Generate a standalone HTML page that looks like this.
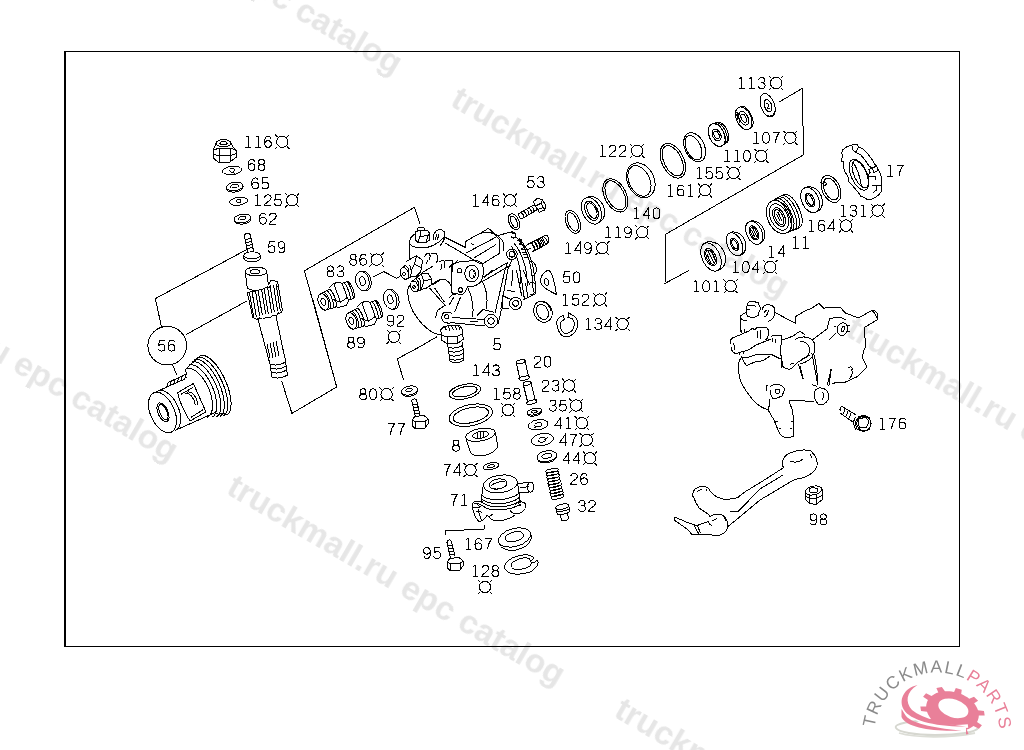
<!DOCTYPE html>
<html><head><meta charset="utf-8"><style>
html,body{margin:0;padding:0;background:#fff;width:1024px;height:750px;overflow:hidden}
svg{display:block;position:absolute;left:0;top:0}
.wm{filter:grayscale(1)}
.wm text{font-family:"Liberation Sans",sans-serif;font-weight:bold;font-size:33.4px;fill:#e6e6e6}
.lb text{font-family:"Liberation Mono",monospace;font-size:18.0px;fill:#000}
.lb .z{font-family:"Liberation Sans",sans-serif;font-size:17.3px}
.lb{filter:grayscale(1)}
.d{fill:none;stroke:#000;stroke-width:1;shape-rendering:crispEdges}
.d *{stroke-width:1}
</style></head><body>
<svg width="1024" height="750" viewBox="0 0 1024 750">
<defs><g class="gl"><path id="g0" d="M0-11.5C-2.3-11.5-3.4-9.2-3.4-6C-3.4-2.8-2.3-0.5 0-0.5C2.3-0.5 3.4-2.8 3.4-6C3.4-9.2 2.3-11.5 0-11.5Z"/><path id="g1" d="M-2.2-10.6L0.2-11.7M0.2-11.7V-0.5M-2.6-0.5H2.8"/><path id="g2" d="M-3.2-8.8C-3.1-10.6-1.8-11.5 0-11.5C2-11.5 3.3-10.3 3.3-8.5C3.3-6.6 1.8-5.6-0.3-4.3C-2.4-3-3.4-1.8-3.4-0.5H3.4"/><path id="g3" d="M-3.1-9.2C-2.7-10.8-1.5-11.5 0-11.5C2-11.5 3.1-10.3 3.1-8.8C3.1-7.2 1.9-6.3 0-6.3H-1M0-6.3C2.2-6.3 3.4-5 3.4-3.3C3.4-1.5 2-0.5 0-0.5C-2-0.5-3.2-1.5-3.4-3.2"/><path id="g4" d="M2.1-0.5V-11.6L-3.4-3.6H3.5"/><path id="g5" d="M3-11.5H-2.3L-2.9-6.1C-2-7 -1-7.4 0.2-7.4C2.2-7.4 3.4-6 3.4-4C3.4-1.8 2-0.5 0-0.5C-1.8-0.5-3-1.4-3.4-2.9"/><path id="g6" d="M3.1-9.4C2.7-10.8 1.5-11.5 0-11.5C-2.4-11.5-3.4-9-3.4-5.5C-3.4-2 -2.1-0.5 0-0.5C2-0.5 3.4-1.8 3.4-3.9C3.4-5.9 2-7.1 0.1-7.1C-1.8-7.1-3.1-6-3.4-4.2"/><path id="g7" d="M-3.4-11.5H3.4C1.3-8.8-0.3-5-0.9-0.5"/><path id="g8" d="M0-6.3C-1.8-6.3-2.9-7.4-2.9-8.9C-2.9-10.5-1.7-11.5 0-11.5C1.7-11.5 2.9-10.5 2.9-8.9C2.9-7.4 1.8-6.3 0-6.3C-2.1-6.3-3.4-5-3.4-3.4C-3.4-1.6-2-0.5 0-0.5C2-0.5 3.4-1.6 3.4-3.4C3.4-5 2.1-6.3 0-6.3Z"/><path id="g9" d="M-3.1-2.6C-2.7-1.2-1.5-0.5 0-0.5C2.4-0.5 3.4-3 3.4-6.5C3.4-10 2.1-11.5 0-11.5C-2-11.5-3.4-10.2-3.4-8.1C-3.4-6.1-2-4.9-0.1-4.9C1.8-4.9 3.1-6 3.4-7.8"/></g><path id="one" d="M-2.4-10.9H0.2M0.2-11.9V0M-2.4-0.5H2.4" fill="none" stroke="#000" stroke-width="1.35"/><g id="q" class="d"><circle r="5.7"/><path d="M-7.1-6.9L-4.9-4.8M7.1-6.9L4.9-4.8M-7.1 7.1L-4.9 4.9M7.1 7.1L4.9 4.9"/></g></defs>
<g class="wm">
<text x="62.0" y="-118.0" transform="rotate(30.25 62.0 -118.0)">truckmall.ru epc catalog</text>
<text x="448.8" y="105.3" transform="rotate(30.25 448.8 105.3)">truckmall.ru epc catalog</text>
<text x="-162.2" y="269.0" transform="rotate(30.25 -162.2 269.0)">truckmall.ru epc catalog</text>
<text x="224.8" y="493.3" transform="rotate(30.25 224.8 493.3)">truckmall.ru epc catalog</text>
<text x="844.1" y="335.0" transform="rotate(30.25 844.1 335.0)">truckmall.ru epc catalog</text>
<text x="612.5" y="716.0" transform="rotate(30.25 612.5 716.0)">truckmall.ru epc catalog</text>
</g>
<path d="M64.5 51.5H959.5V646.5H64.5Z" fill="none" stroke="#000" stroke-width="1" shape-rendering="crispEdges"/>
<rect x="64" y="51" width="2" height="596" fill="#000"/>
<g class="lb" fill="none" stroke="#000" stroke-width="1" shape-rendering="crispEdges">
<use href="#g1" x="247.9" y="147.8"/>
<use href="#g1" x="257.9" y="147.8"/>
<use href="#g6" x="267.9" y="147.8"/>
<use href="#g6" x="251.6" y="170.9"/>
<use href="#g8" x="261.6" y="170.9"/>
<use href="#g6" x="255.1" y="189.4"/>
<use href="#g5" x="265.1" y="189.4"/>
<use href="#g1" x="257.8" y="206.4"/>
<use href="#g2" x="267.8" y="206.4"/>
<use href="#g5" x="277.8" y="206.4"/>
<use href="#g6" x="262.9" y="224.6"/>
<use href="#g2" x="272.9" y="224.6"/>
<use href="#g5" x="271.6" y="253.2"/>
<use href="#g9" x="281.6" y="253.2"/>
<use href="#g8" x="330.4" y="277.4"/>
<use href="#g3" x="340.4" y="277.4"/>
<use href="#g8" x="353.2" y="265.7"/>
<use href="#g6" x="363.2" y="265.7"/>
<use href="#g9" x="390.6" y="326.6"/>
<use href="#g2" x="400.6" y="326.6"/>
<use href="#g8" x="351.0" y="348.6"/>
<use href="#g9" x="361.0" y="348.6"/>
<use href="#g8" x="363.1" y="400.3"/>
<use href="#g0" x="373.1" y="400.3"/>
<use href="#g7" x="391.2" y="435.2"/>
<use href="#g7" x="401.2" y="435.2"/>
<use href="#g1" x="475.7" y="206.5"/>
<use href="#g4" x="485.7" y="206.5"/>
<use href="#g6" x="495.7" y="206.5"/>
<use href="#g5" x="530.8" y="188.1"/>
<use href="#g3" x="540.8" y="188.1"/>
<use href="#g5" x="497.0" y="350.4"/>
<use href="#g5" x="566.6" y="283.4"/>
<use href="#g0" x="576.6" y="283.4"/>
<use href="#g1" x="565.5" y="305.7"/>
<use href="#g5" x="575.5" y="305.7"/>
<use href="#g2" x="585.5" y="305.7"/>
<use href="#g1" x="588.2" y="330.0"/>
<use href="#g3" x="598.2" y="330.0"/>
<use href="#g4" x="608.2" y="330.0"/>
<use href="#g1" x="476.0" y="376.4"/>
<use href="#g4" x="486.0" y="376.4"/>
<use href="#g3" x="496.0" y="376.4"/>
<use href="#g2" x="537.6" y="367.6"/>
<use href="#g0" x="547.6" y="367.6"/>
<use href="#g1" x="496.8" y="399.6"/>
<use href="#g5" x="506.8" y="399.6"/>
<use href="#g8" x="516.8" y="399.6"/>
<use href="#g2" x="545.6" y="391.6"/>
<use href="#g3" x="555.6" y="391.6"/>
<use href="#g3" x="552.8" y="411.6"/>
<use href="#g5" x="562.8" y="411.6"/>
<use href="#g4" x="558.4" y="429.2"/>
<use href="#g1" x="568.4" y="429.2"/>
<use href="#g4" x="563.2" y="446.0"/>
<use href="#g7" x="573.2" y="446.0"/>
<use href="#g4" x="566.4" y="464.4"/>
<use href="#g4" x="576.4" y="464.4"/>
<use href="#g2" x="574.0" y="485.0"/>
<use href="#g6" x="584.0" y="485.0"/>
<use href="#g3" x="582.0" y="512.0"/>
<use href="#g2" x="592.0" y="512.0"/>
<use href="#g8" x="456.0" y="451.6"/>
<use href="#g7" x="447.0" y="476.0"/>
<use href="#g4" x="457.0" y="476.0"/>
<use href="#g7" x="454.0" y="506.0"/>
<use href="#g1" x="464.0" y="506.0"/>
<use href="#g9" x="427.0" y="559.0"/>
<use href="#g5" x="437.0" y="559.0"/>
<use href="#g1" x="468.4" y="550.0"/>
<use href="#g6" x="478.4" y="550.0"/>
<use href="#g7" x="488.4" y="550.0"/>
<use href="#g1" x="475.4" y="577.0"/>
<use href="#g2" x="485.4" y="577.0"/>
<use href="#g8" x="495.4" y="577.0"/>
<use href="#g1" x="567.9" y="254.2"/>
<use href="#g4" x="577.9" y="254.2"/>
<use href="#g9" x="587.9" y="254.2"/>
<use href="#g1" x="607.9" y="238.4"/>
<use href="#g1" x="617.9" y="238.4"/>
<use href="#g9" x="627.9" y="238.4"/>
<use href="#g1" x="636.5" y="219.3"/>
<use href="#g4" x="646.5" y="219.3"/>
<use href="#g0" x="656.5" y="219.3"/>
<use href="#g1" x="602.7" y="156.9"/>
<use href="#g2" x="612.7" y="156.9"/>
<use href="#g2" x="622.7" y="156.9"/>
<use href="#g1" x="670.6" y="196.5"/>
<use href="#g6" x="680.6" y="196.5"/>
<use href="#g1" x="690.6" y="196.5"/>
<use href="#g1" x="699.2" y="179.2"/>
<use href="#g5" x="709.2" y="179.2"/>
<use href="#g5" x="719.2" y="179.2"/>
<use href="#g1" x="726.9" y="161.9"/>
<use href="#g1" x="736.9" y="161.9"/>
<use href="#g0" x="746.9" y="161.9"/>
<use href="#g1" x="756.0" y="143.8"/>
<use href="#g0" x="766.0" y="143.8"/>
<use href="#g7" x="776.0" y="143.8"/>
<use href="#g1" x="741.7" y="89.1"/>
<use href="#g1" x="751.7" y="89.1"/>
<use href="#g3" x="761.7" y="89.1"/>
<use href="#g1" x="889.9" y="176.5"/>
<use href="#g7" x="899.9" y="176.5"/>
<use href="#g1" x="843.2" y="216.7"/>
<use href="#g3" x="853.2" y="216.7"/>
<use href="#g1" x="863.2" y="216.7"/>
<use href="#g1" x="811.6" y="231.7"/>
<use href="#g6" x="821.6" y="231.7"/>
<use href="#g4" x="831.6" y="231.7"/>
<use href="#g1" x="795.7" y="248.5"/>
<use href="#g1" x="805.7" y="248.5"/>
<use href="#g1" x="771.4" y="257.5"/>
<use href="#g4" x="781.4" y="257.5"/>
<use href="#g1" x="735.8" y="273.1"/>
<use href="#g0" x="745.8" y="273.1"/>
<use href="#g4" x="755.8" y="273.1"/>
<use href="#g1" x="696.2" y="292.3"/>
<use href="#g0" x="706.2" y="292.3"/>
<use href="#g1" x="716.2" y="292.3"/>
<use href="#g1" x="882.4" y="429.5"/>
<use href="#g7" x="892.4" y="429.5"/>
<use href="#g6" x="902.4" y="429.5"/>
<use href="#g9" x="813.4" y="525.4"/>
<use href="#g8" x="823.4" y="525.4"/>
<use href="#g5" x="161.6" y="351.6"/>
<use href="#g6" x="171.6" y="351.6"/>
</g>
<g>
<use href="#q" x="282.3" y="141.7"/>
<use href="#q" x="292.2" y="200.3"/>
<use href="#q" x="376.7" y="259.6"/>
<use href="#q" x="386.6" y="394.2"/>
<use href="#q" x="510.1" y="200.4"/>
<use href="#q" x="599.9" y="299.6"/>
<use href="#q" x="622.6" y="323.9"/>
<use href="#q" x="569.1" y="385.5"/>
<use href="#q" x="576.3" y="405.5"/>
<use href="#q" x="581.9" y="423.1"/>
<use href="#q" x="586.7" y="439.9"/>
<use href="#q" x="589.9" y="458.3"/>
<use href="#q" x="470.5" y="469.9"/>
<use href="#q" x="602.3" y="248.1"/>
<use href="#q" x="642.3" y="232.3"/>
<use href="#q" x="637.1" y="150.8"/>
<use href="#q" x="705.0" y="190.4"/>
<use href="#q" x="733.6" y="173.1"/>
<use href="#q" x="761.3" y="155.8"/>
<use href="#q" x="790.4" y="137.7"/>
<use href="#q" x="776.1" y="83.0"/>
<use href="#q" x="877.6" y="210.6"/>
<use href="#q" x="846.0" y="225.6"/>
<use href="#q" x="770.2" y="267.0"/>
<use href="#q" x="730.6" y="286.2"/>
<use href="#q" x="393.9" y="336.8"/>
<use href="#q" x="508.0" y="410.0"/>
<use href="#q" x="485.0" y="587.0"/>
</g>
<g class="d">
<g transform="translate(225 152)"><ellipse cx="-1.5" cy="-8.8" rx="7.5" ry="3.6"/><ellipse cx="-1.5" cy="-8.8" rx="3.6" ry="1.7"/><path d="M-9-8.5 C-10-6 -11-4 -11.5-2 M6-8.5 C7-6 9-4 11-2"/><path d="M-12-1.5 L-6-4 L5-4 L11.5-1.5 L11.5 5 L5 10 L-6 10.5 L-12 6 Z M-6-4 L-6 4 L-6 10.5 M5-4 L5 10 M-12 2 L-6 4 L5 3.5 L11.5 1.5"/></g>
<g transform="translate(232 170.5) rotate(-8)"><ellipse rx="9.5" ry="4.3"/><path d="M-2-1.5 C2-3 4-1 2 1 C0 2.5-3 1-2-1 M1 1 L2 4"/></g>
<g transform="translate(234.6 186.5) rotate(-8)"><ellipse rx="8.5" ry="4.2"/><path d="M-8.5 0.5 C-8.5 7.2 8.5 7.2 8.5 0.5"/><ellipse cx="0" cy="-0.5" rx="3.6" ry="1.7"/></g>
<g transform="translate(238.5 201.3) rotate(-8)"><ellipse rx="9" ry="4"/><path d="M-2-1 C1-3 4-1 2 1 C0 2-3 1-2-1"/></g>
<g transform="translate(242.5 218.5) rotate(-8)"><ellipse rx="8.5" ry="4.2"/><path d="M-8.5 0.5 C-8.5 7.2 8.5 7.2 8.5 0.5"/><ellipse cx="0" cy="-0.5" rx="3.6" ry="1.7"/></g>
<g><path d="M244.6 237 C244 233 249.5 231.5 250.5 235.5 M244.6 237 L247.8 253 M250.5 235.5 L253.6 251.5"/><path d="M244.8 240 L250.6 238.4 M245.4 243 L251.2 241.4 M246 246 L251.8 244.4 M246.6 249 L252.4 247.4"/><ellipse cx="252" cy="255.3" rx="8.2" ry="3.5"/><path d="M243.8 255.6 L244 258.5 C245 262.5 259 262.5 260.2 258.5 L260.2 255.3"/></g>
<path d="M247.3 249.3 L155.3 298.6 L161.5 326.8"/>
<path d="M186.0 334.6 L247.3 300.7"/>
<path d="M172.6 364.8 L176.6 374.6"/>
<path d="M313.0 300.0 L336.7 387.0 L291.9 413.4 L281.8 381.2"/>
<circle cx="167.2" cy="345.7" r="19.3"/>
<g><ellipse cx="256" cy="271.5" rx="10.7" ry="4.5"/><ellipse cx="255" cy="271.8" rx="5" ry="2"/><path d="M245.3 272 L247.3 288 M266.7 271 L268.3 285"/><path d="M247.3 288 C252 292 262 291 268.3 286"/><path d="M247.2 292.4 L252.8 317.2 C255 319.5 258 319.5 259.5 318 C261 319.5 264 319.5 266 317 C268 318.5 271 318 272.5 315.5 C274.5 316.5 277 315.5 278.5 313 C280.5 313.5 282 312 282.4 310 L277.6 282"/><path d="M268.3 285 L271 280.5 L274 280 L276 281.5 L277.6 282 M276.5 286 L279 287.5"/><path d="M247.2 292.4 C249 293 250.5 292 251.5 291.2 C253.5 292.5 256 291 257.5 290 M266 287.5 C268 288 270 287 271 285.5"/><path d="M249.5 293.0 L253.7 317.3 M252.1 292.1 L256.3 316.6 M255.5 291.0 L259.7 315.8 M258.1 290.1 L262.3 315.1 M261.5 289.0 L265.7 314.3 M264.1 288.1 L268.3 313.6 M267.5 287.1 L271.7 312.8 M270.1 286.2 L274.3 312.1 M273.5 285.1 L277.7 311.3 M276.1 284.2 L280.3 310.6"/><path d="M257.6 318 L269 360.6 M276 316 L284.8 358"/><path d="M267 344 L270 358 M270 343 L273 358 M273 342 L276 357 M276 341 L279 356"/><path d="M269.5 360.5 L272 377 C276 379 283 378 287.5 375 L285 358 M270.5 364 C274 366 281 365 285.5 362 M271 368 C275 370 282 369 286 366 M271.5 372 C275 374 282 373 286.5 370"/></g>
<g transform="translate(162.5 412.5) rotate(-24)"><ellipse rx="12" ry="21.5"/><ellipse cx="0.5" rx="5" ry="10"/><ellipse cx="1" rx="3.6" ry="8.3"/><path d="M4.5-21.5 A12 21.5 0 0 1 4.5 21.5"/><path d="M0-21.5 L34-21.5 M4.5 21.5 L48 21.5"/><path d="M14-21.5 L17-25 M18-21.5 L21-25.5 M22-21.5 L25-25.5 M26-21.5 L29-25.5 M30-21.5 L33-25.5 M17-25 L36-25.5 L36-21.5"/><path d="M22-12 L40-14 L40 17 L22 19 C20 12 20 -5 22 -12 Z M24-9 L38-10.5 M24 16 L38 14"/><path d="M28-8 C33-8 35 0 33 6 M31-8.5 C36-8 38 1 35 7"/><path d="M34-21.5 L38-26 L38-30 M48 21.5 L50 24"/><path d="M39-26.5 A13 26.5 0 0 1 39 26.5" transform="translate(0 -4)"/><path d="M43-28.5 A13 28.5 0 0 1 43 28.5" transform="translate(0 -4)"/><path d="M47-30 A13 30 0 0 1 47 30" transform="translate(0 -4)"/><path d="M50.5-31 A13 31 0 0 1 50.5 31" transform="translate(0 -4)"/><path d="M54-31.8 A13 31.8 0 0 1 54 31.8" transform="translate(0 -4)"/><path d="M57.5-32.3 A13 32.3 0 0 1 57.5 32.3" transform="translate(0 -4)"/><path d="M38-30 L57.5-36.5 M50 24 L57.5 27"/></g>
<path d="M304.4 270.8 L414.4 207.3 L420.0 224.3"/>
<path d="M304.4 270.8 L336.7 387.0"/>
<g transform="translate(334 296) rotate(-20)"><ellipse cx="-12" cy="2" rx="5" ry="8.5"/><ellipse cx="-12" cy="2" rx="2.2" ry="3.6"/><path d="M-12-6.5 L-2-8 M-12 10.5 L-2 11 M-8-7 C-5-4-5 8-8 10.8 M-5-7.3 C-2-4-2 8-5 11 M-2-8 C1-4 1 8-2 11"/><path d="M-2-9 L4-12 L10-11 L12-8 L12 10 L8 13 L-1 12 M4-12 L4 8 M-2 3 L4 8 L12 6"/><path d="M12-9 L18-9 M12 9 L18 9 M14-9.5 C16-5 16 5 14 9.5 M17-9.5 C19-5 19 5 17 9.5 M18-9 C21-5 21 5 18 9"/></g>
<g transform="translate(362 315) rotate(-20)"><ellipse cx="-12" cy="2" rx="5" ry="8.5"/><ellipse cx="-12" cy="2" rx="2.2" ry="3.6"/><path d="M-12-6.5 L-2-8 M-12 10.5 L-2 11 M-8-7 C-5-4-5 8-8 10.8 M-5-7.3 C-2-4-2 8-5 11 M-2-8 C1-4 1 8-2 11"/><path d="M-2-9 L4-12 L10-11 L12-8 L12 10 L8 13 L-1 12 M4-12 L4 8 M-2 3 L4 8 L12 6"/><path d="M12-9 L18-9 M12 9 L18 9 M14-9.5 C16-5 16 5 14 9.5 M17-9.5 C19-5 19 5 17 9.5 M18-9 C21-5 21 5 18 9"/></g>
<g transform="translate(362.4 281.1) rotate(-15)"><ellipse cx="0" cy="0" rx="6.6" ry="10"/><path d="M0 -10 A6.6 10 0 0 1 0 10" transform="translate(2.0 0.5)"/><path d="M0 -10L2.0 -9.5 M0 10L2.0 10.5"/><ellipse cx="0" cy="0" rx="2.8" ry="4.8"/></g>
<g transform="translate(390.2 299.4) rotate(-15)"><ellipse cx="0" cy="0" rx="6.5" ry="10"/><path d="M0 -10 A6.5 10 0 0 1 0 10" transform="translate(2.0 0.5)"/><path d="M0 -10L2.0 -9.5 M0 10L2.0 10.5"/><ellipse cx="0" cy="0" rx="2.8" ry="4.8"/></g>
<path d="M372.6 277.4 L383.6 271.5 L396.8 278.4 L401.3 275.2"/>
<path d="M397.3 358.9 L420.0 346.6"/>
<path d="M397.3 358.9 L403.5 380.0"/>
<path d="M420.0 346.6 L436.9 336.7"/>
<g transform="translate(409.5 390.5) rotate(-10)"><ellipse rx="8.2" ry="4.5"/><path d="M-8.2 0.5 C-8.2 7.5 8.2 7.5 8.2 0.5"/><ellipse cx="-0.5" cy="-0.5" rx="3.5" ry="1.7"/></g>
<g><path d="M412 402 C411 399 415 398 416.5 400 M412 402 L415.5 417 M416.5 400 L420 415"/><path d="M412.5 405 L417 404 M413.2 408 L417.7 407 M413.9 411 L418.4 410 M414.6 414 L419.1 413"/><path d="M412 420 L415 416.5 L424 415.5 L428 419 L428 424 L425 428 L415 429 L412 425 Z M412 420 L416 422 L425 421.5 L428 419 M416 422 L415 429 M425 421.5 L425 428"/></g>
<g transform="translate(522.5 370) rotate(-12)"><ellipse cx="0" cy="-8.5" rx="4.5" ry="1.8"/><path d="M-4.5-8.5 L-4.5 8 M4.5-8.5 L4.5 8"/><path d="M-5.5 8 C-5.5 11 5.5 11 5.5 8 C5.5 6 -5.5 6 -5.5 8"/></g>
<g transform="translate(529.5 393) rotate(-14)"><ellipse cx="0" cy="-10" rx="4" ry="1.8"/><path d="M-4-10 L-4 9 M4-10 L4 9"/><path d="M-5.5 9 C-5.5 12 5.5 12 5.5 9 C5.5 7 -5.5 7 -5.5 9"/></g>
<ellipse cx="464.8" cy="391.6" rx="16" ry="7.2" transform="rotate(-12 464.8 391.6)"/>
<ellipse cx="464.8" cy="391.6" rx="12.5" ry="4.8" transform="rotate(-12 464.8 391.6)"/>
<ellipse cx="470.8" cy="415.2" rx="22" ry="10.5" transform="rotate(-12 470.8 415.2)"/>
<ellipse cx="470.8" cy="415.2" rx="18" ry="7.5" transform="rotate(-12 470.8 415.2)"/>
<g transform="translate(480.5 434.8) rotate(-10)"><ellipse rx="15" ry="6.2"/><ellipse cx="0" cy="0" rx="8" ry="3.4"/><path d="M-3-2.5 L-3 2.6 M0-3.3 L0 3.4 M3-3 L3 3"/><path d="M-15 0 L-13 16 C-8 23 10 23 15 14 L15 0"/></g>
<g transform="translate(534.4 411.6) rotate(-12)"><ellipse rx="7.3" ry="3.2"/><ellipse rx="2.8" ry="1.3"/><path d="M-7.3 0.5 C-7.3 5.6 7.3 5.6 7.3 0.5"/></g>
<g transform="translate(538.2 424.8) rotate(-10)"><ellipse rx="10" ry="5"/><path d="M-3-1 C0-3.5 5-2 3 1 C1 3-4 2-4 0 M-1 1.5 L-5 2"/></g>
<g transform="translate(542.4 439.6) rotate(-10)"><ellipse rx="11.2" ry="6"/><path d="M-4-1 C-1-4 5-2 3 1.5 C1 3.5-5 2.5-4 0 M2 0 L6-1"/></g>
<g transform="translate(546.8 456.2) rotate(-10)"><ellipse rx="10" ry="5.3"/><ellipse cx="0" cy="-0.3" rx="5" ry="2.5"/><path d="M-10 0.5 C-10 8.6 10 8.6 10 0.5"/></g>
<g transform="translate(491 466.2) rotate(-12)"><ellipse rx="8" ry="3.3"/><ellipse rx="3.5" ry="1.4"/></g>
<g><ellipse cx="500.4" cy="483.9" rx="17.2" ry="8.8" transform="rotate(-8 500.4 483.9)"/><ellipse cx="497.9" cy="484" rx="9" ry="5" transform="rotate(-10 497.9 484)"/><path d="M492 488 C495 490 503 489 506.5 485.5 M491 486 C494 483 500 481 505 481.5"/><path d="M483.2 486 L481.7 496.5 L482 503 M517.5 482.5 L519.9 499.4 L520.5 503"/><path d="M481.7 495 C488 502 510 501 519.5 493 M482 499 C489 506 511 505 520 497 M482.5 502.5 C490 509 511 508 520.3 500.5 M483 506 C490 512 510 511 520.5 504"/><path d="M483 502 L477 501 C473.5 501 472 503.5 472.3 506 L473.5 512 L476 518 L479 521.7 L483 520 L487.4 515.2"/><path d="M474 504 C476 503 480 503.5 482 505.5 L478 508 L473.5 507.5 M476.5 512 L480 511 L482 513 M477.5 504.5 L479 506"/><path d="M478 509 L479.5 515 L481.5 520"/><path d="M515 504.5 C519 501 524 501 525.5 504 C526.5 508 524 512 518 513.8 C514 514 511 512.5 509.8 510 M518.5 503.5 L520.5 506"/><path d="M487.4 515.2 C490 519 494 521 496.8 521 C503 521 510 518.5 514.8 515.2 M489 517 L493 514"/><path d="M518.4 484 L527.8 482 M519.5 493 L528.5 492.2 M520 488 L529 486.5"/><ellipse cx="530.6" cy="487.1" rx="2.9" ry="5.1"/></g>
<path d="M484.0 525.0 L484.0 529.0 L445.0 531.0 L446.0 535.0"/>
<g><path d="M447 543 C446.5 539.5 450.5 539 451.5 541.5 M447 543 L450.5 558 M451.5 541.5 L455 556"/><path d="M447.5 546 L452 545 M448.2 549 L452.7 548 M448.9 552 L453.4 551 M449.6 555 L454.1 554"/><path d="M447 562 L450 558.5 L459 557.5 L463 561 L463 566 L460 570 L450 571 L447 567 Z M447 562 L451 564 L460 563.5 L463 561 M451 564 L450 571 M460 563.5 L460 570"/></g>
<g transform="translate(514.5 537.5) rotate(-15)"><ellipse rx="16.5" ry="9"/><ellipse cx="0" cy="-0.8" rx="9.5" ry="4.8"/><path d="M-16.5 0.5 L-16.3 3 C-15 9 -7 12.5 0 12.5 C8 12.5 15.5 9 16.5 3 L16.5 0"/></g>
<g transform="translate(521 564) rotate(-15)"><path d="M14-3 C10-10-10-11-16-3 C-20 4-8 11 6 10 C14 9 18 4 17 0 M14-3 C12 0 8 0 10-3 M17 0 C14 3 9 2 10 0 M10-3 C4-7-8-6-10-1 C-11 4-2 6 6 5 C9 4 11 2 10 0"/></g>
<g transform="translate(554.5 483) rotate(-12)"><path d="M-6.5 -13 C-6.5 -10 6.5 -10 6.5 -13 C6.5 -15 -6.5 -15 -6.5 -13"/><path d="M-6.5 -10 C-6.5 -7 6.5 -7 6.5 -10 C6.5 -12 -6.5 -12 -6.5 -10"/><path d="M-6.5 -7 C-6.5 -4 6.5 -4 6.5 -7 C6.5 -9 -6.5 -9 -6.5 -7"/><path d="M-6.5 -4 C-6.5 -1 6.5 -1 6.5 -4 C6.5 -6 -6.5 -6 -6.5 -4"/><path d="M-6.5 -1 C-6.5 2 6.5 2 6.5 -1 C6.5 -3 -6.5 -3 -6.5 -1"/><path d="M-6.5 2 C-6.5 5 6.5 5 6.5 2 C6.5 0 -6.5 0 -6.5 2"/><path d="M-6.5 5 C-6.5 8 6.5 8 6.5 5 C6.5 3 -6.5 3 -6.5 5"/><path d="M-6.5 8 C-6.5 11 6.5 11 6.5 8 C6.5 6 -6.5 6 -6.5 8"/><path d="M-6.5 11 C-6.5 14 6.5 14 6.5 11 C6.5 9 -6.5 9 -6.5 11"/><path d="M-6.5 14 C-6.5 17 6.5 17 6.5 14 C6.5 12 -6.5 12 -6.5 14"/></g>
<g transform="translate(563.5 512.5) rotate(-12)"><ellipse cx="0" cy="-6" rx="6.5" ry="2.5"/><path d="M-6.5-6 L-6.5 1 M6.5-6 L6.5 1 M-6.5-3 C-6.5-1 6.5-1 6.5-3 M-6.5 0 C-6.5 2 6.5 2 6.5 0 M-4 1 L-3.5 7 C-1 8.5 2 8.5 3.5 7 L4 1"/></g>
<g transform="translate(531 210) rotate(-30)"><path d="M-12-3 L6-3 M-12 3 L6 3 M-12-3 C-14-3-14 3-12 3"/><path d="M-10-3.3 C-8.8-1 -8.8 1 -10 3.3"/><path d="M-7-3.3 C-5.8-1 -5.8 1 -7 3.3"/><path d="M-4-3.3 C-2.8-1 -2.8 1 -4 3.3"/><path d="M-1-3.3 C0.19999999999999996-1 0.19999999999999996 1 -1 3.3"/><path d="M2-3.3 C3.2-1 3.2 1 2 3.3"/><path d="M5-3.3 C6.2-1 6.2 1 5 3.3"/><path d="M6-6 L12-7 L15-3 L15 3 L12 7 L6 6 Z M6-1 L12-1 L15-3 M12-1 L12 7 M6 3 L12 4"/></g>
<g stroke-width="1.05" transform="translate(514 221.8) rotate(-25)"><ellipse rx="5" ry="8.5"/><ellipse rx="2.8" ry="6.2"/></g>
<g transform="translate(538 244) rotate(-28)"><path d="M-8-4 L8-4 M-8 4 L8 4 M8-4 C10-4 10 4 8 4"/><path d="M-6-4.3 C-4.8-1 -4.8 1 -6 4.3"/><path d="M-3-4.3 C-1.8-1 -1.8 1 -3 4.3"/><path d="M0-4.3 C1.2-1 1.2 1 0 4.3"/><path d="M3-4.3 C4.2-1 4.2 1 3 4.3"/><path d="M6-4.3 C7.2-1 7.2 1 6 4.3"/></g>
<g stroke-width="1.05" transform="translate(572.8 221.9) rotate(-23)"><ellipse rx="6.9" ry="12"/><ellipse rx="4.7" ry="9.8"/></g>
<g stroke-width="1.05" transform="translate(591.5 210.8) rotate(-25)"><ellipse rx="9.2" ry="14"/><path d="M0-14 C7-14 12-8 12 0 C12 8 7 14 0 14" transform="translate(0.8 0)"/><ellipse rx="6" ry="10.3"/><ellipse rx="4.2" ry="8.3" cx="0.5"/></g>
<g stroke-width="1.05" transform="translate(615.4 195.4) rotate(-27)"><ellipse rx="10.8" ry="17.8"/><ellipse rx="8.7" ry="15.7"/></g>
<g stroke-width="1.05" transform="translate(640.8 180.3) rotate(-25)"><ellipse rx="13.3" ry="18.2"/><ellipse cx="-1.5" rx="10.3" ry="16.2"/></g>
<g stroke-width="1.05" transform="translate(672.8 160.8) rotate(-26)"><ellipse rx="11" ry="18.5"/><ellipse rx="8.8" ry="16.3"/></g>
<g stroke-width="1.05" transform="translate(694.7 147.2) rotate(-25)"><ellipse rx="9.8" ry="15.3"/><ellipse cx="-1.3" rx="7.2" ry="13"/></g>
<g stroke-width="1.05" transform="translate(719.4 133.8) rotate(-25)"><ellipse cx="-3" rx="7.5" ry="12"/><ellipse cx="-3" rx="4" ry="6.3"/><ellipse cx="-3" rx="2.4" ry="4"/><path d="M-3-12 L4-11 C10-7 10 7 4 11 L-3 12 M0-11.8 C6-8 6 8 0 11.8 M2.5-11.5 C8-7 8 7 2.5 11.5"/></g>
<g stroke-width="1.05" transform="translate(745.1 117.6) rotate(-25)"><ellipse cx="-1.5" rx="7.3" ry="12"/><path d="M-1.5-12 L2.5-11.5 C8-7 8 7 2.5 11.5 L-1.5 12"/><ellipse cx="-1.5" rx="4.3" ry="7.3"/><ellipse cx="-1.5" rx="2.3" ry="4.3"/><path d="M-7.5-5 L-4.5-8 M-8.5-1 L-4-8.5 M-8.5 3 L-5.5 0 M-6-8 L-3-5 M-8-3 L-6-1"/></g>
<g stroke-width="1.05" transform="translate(767.6 105.3) rotate(-20)"><ellipse rx="6.8" ry="12.2"/><path d="M-6.6 2 C-6 12 3 15.5 6.6 4"/><ellipse cx="0.3" cy="0.5" rx="3.6" ry="6.3"/><path d="M-1-2 C1.5-2.5 2 1 0 1.5 C-1.5 2 -1 4 1 4"/></g>
<path d="M779.1 102.1 L802.5 88.2 L803.4 154.9 L665.7 234.2 L665.0 283.4 L689.0 270.4"/>
<g stroke-width="1.05" transform="translate(712.8 256.1) rotate(-25)"><ellipse cx="-2" rx="9" ry="15"/><path d="M-2-15 L2-15 C9-12 12-6 12 0 C12 8 8 14 2 15 L-2 15"/><ellipse cx="-2.5" rx="5.2" ry="9.2"/><ellipse cx="-2.5" rx="3.8" ry="7.6"/><path d="M-4.5-5 L-4.5 5 M-2-6.5 L-2 6.5 M0.5-5 L0.5 5"/></g>
<g stroke-width="1.05" transform="translate(736 243.7) rotate(-25)"><ellipse cx="-1.5" rx="7.3" ry="12.3"/><path d="M-1.5-12.3 L1.5-12.3 C7-10 9.5-5 9.5 0 C9.5 6 6 11 1.5 12.3 L-1.5 12.3"/><ellipse cx="-1.5" rx="3.6" ry="6.5"/><ellipse cx="-1.5" rx="2.2" ry="4.8"/></g>
<g stroke-width="1.05" transform="translate(755.3 232.3) rotate(-25)"><ellipse cx="-1.2" rx="7.7" ry="12.2"/><path d="M-1.2-12.2 L1.2-12.2 C6.5-10 9-5 9 0 C9 6 6 11 1.2 12.2 L-1.2 12.2"/><ellipse cx="-1.5" rx="4.2" ry="7.5"/><ellipse cx="-1.5" rx="2.8" ry="6"/><path d="M-2.5-4 L-2.5 4 M-0.5-5 L-0.5 5"/></g>
<g stroke-width="1.05" transform="translate(784.5 214.5) rotate(-25)"><ellipse cx="-6" rx="11.5" ry="17.5"/><ellipse cx="-6" rx="8.5" ry="14"/><ellipse cx="-6" rx="5.5" ry="10"/><ellipse cx="-6" rx="3.8" ry="8"/><path d="M-7-4 L-7 4 M-5-5 L-5 5"/><path d="M-3-18.5 C6-13 6 13 -3 18.5"/><path d="M0-18.5 C9-13 9 13 0 18.5"/><path d="M3-18.5 C12-13 12 13 3 18.5"/><path d="M6-18.5 C15-13 15 13 6 18.5"/><path d="M9-18.5 C18-13 18 13 9 18.5"/><path d="M-6-17.5 L9-18.5 M-6 17.5 L9 18.5"/></g>
<g stroke-width="1.05" transform="translate(811.8 199.3) rotate(-25)"><ellipse cx="-1.8" rx="8.5" ry="13.3"/><path d="M-1.8-13.3 L1.5-13.3 C7.5-11 10-5 10 0 C10 6 7 12 1.5 13.3 L-1.8 13.3"/><ellipse cx="-2" rx="4.3" ry="7.3"/><ellipse cx="-2" rx="2.6" ry="5.5"/></g>
<g stroke-width="1.05" transform="translate(831 189) rotate(-25)"><ellipse rx="9" ry="14.2"/><ellipse rx="6.7" ry="11.6"/><path d="M-5.5-8 L-2.5-9.5 L-1.5-6.5 L-4.5-5.5"/></g>
<g><path d="M844.5 148.7 L847 146.5 L851 145.5 L854.1 144.3 L857.5 145 L858.3 147.2 L862.8 148.7 L868 154 L872 159.5 L874.9 164.3 L876.5 166 L872.5 168 L869 169.5 L870 172.5 L868.5 174.5"/><path d="M844.5 148.7 L842.5 150 L841.9 153 L842.5 156 L841.1 160.8 L843.5 162 L843.5 166 L844.5 171.2 L847 175 L848.9 179 L848 180.8 L851 184 L855 188.6 L858 192 L861 196.4 L864 197.5 L868 199.8 L872 199 L875.8 197.2 L879 194.5 L881 192 L881.5 186 L881.8 181.6 L881 176 L879.5 172 L878.4 170.4 L876.5 166"/><path d="M852 146 L853 150 L856 152.5 L858.3 147.2 M856 152.5 L860.5 154.5 L865 160 L869.5 166.5 L872.5 168 M868 174.5 L870 177 L875 176 L876 179.5 M872 185 L876 185.5 L876.5 190 L873 192.5 M876 185.5 L881.5 186 M872.5 168 L873.5 172.5 L878.4 170.4"/><ellipse cx="859" cy="174.7" rx="8" ry="16.5" transform="rotate(-24 859 174.7)"/><ellipse cx="860.2" cy="174.3" rx="6.2" ry="14.6" transform="rotate(-24 860.2 174.3)"/><path d="M853 162 C857 168 860 177 861.5 186"/></g>
<g><path d="M541 283 C539 276 546 270 549 270.5 C552 272 555 285 556.5 294.5 C552 292 543 289 541 283 Z"/><ellipse cx="546.5" cy="282" rx="2.2" ry="3.5" transform="rotate(-15 546.5 282)"/></g>
<g stroke-width="1.05" transform="translate(543 311.7) rotate(-25)"><ellipse rx="9" ry="10.8"/><ellipse cx="-0.6" rx="5.6" ry="8"/><path d="M3.5-9.5 C7-7 8.5-2 7.5 3"/></g>
<path d="M563.2 315.4 C559 317 556.5 320 556.7 323.6 C557 330 561 336.5 565.5 337 C571 337.5 577.5 331 577.9 324.7 C578 320 575.5 316.5 572.6 315.4 C571 314.2 569.5 313.2 568.5 313 L567.9 317.7 L572 318.3 C573.5 320 574.5 322 574.3 324.2 C574 328.5 571.5 332.4 567 333.5 C563.5 334 560.5 330 560.3 326.5 C560 323.5 561 321.5 562.6 320.6 L564.4 319.5 Z"/><g><path d="M417.3 229.5 C417.3 226.8 424.7 226.5 424.7 229.3 L424.7 231 M417.3 229.5 L417.3 231.5"/><path d="M415.4 232 L420 230.3 L428 231 L430 234 L429.9 240 L426 242.4 L418 242.4 L415.4 240 Z M420 230.3 L420 236.5 L418 242.4 M420 236.5 L428 235.5 L430 234 M428 235.5 L426 242.4"/><path d="M415.4 234 C411.5 235.5 409.5 239.5 409.5 243.3 L409.8 259"/><path d="M410 244 C412.5 248.5 426 249 433 245.5 C437 243.5 441 240.5 444 237.5 C446.5 233 443.5 229 438.5 229.5 C434.5 231 432.5 236 433.5 240.5"/><path d="M436 234 C436.5 236 436 238 435 239.5 M438.5 233.5 C438.5 236 438 238.5 437 240"/><path d="M440 246 C441.5 244 443.5 241 444.8 238"/><path d="M444.7 237.1 L465.2 247.4 L466.1 240.9 L479.2 233.9 L488.5 228.3 L494.1 233.4 L498 235.5 L509.8 232.3 L514.6 234"/><path d="M445.6 243.2 L481 264.2"/><path d="M466.1 253 L496 237.1 M474.5 257.6 L496 244.6 M482 264.2 L500 253 M482.9 277.2 L507.5 262.5 M482.5 281.5 L511 265"/><path d="M479.2 233.9 L485 232 L494.1 233.4 M471.5 243.5 L474.5 245.5"/><path d="M494.1 233.4 L499.5 239.5 L500 253 M498 235.5 L503 241.5 L504 251"/><path d="M510 232.3 C513.5 231 516.5 233.5 516 236.5 C515 238.5 512 238.5 511 236.5"/><path d="M516.2 237 C527 248 533 268 533.2 292.5 M518.8 238 C530 250 535.5 270 535.6 293 M514 243 C522 253 527 268 527.5 286 M511.5 246 C518 256 521 270 521 284"/><path d="M517.5 240.5 L521 239.5 L522.2 243 L518.7 244 M519.5 245 L523 244 L524.2 247.7 L520.7 248.5 M521.5 249.5 L525 248.7 L526 252.2 L522.5 253 M523 254.5 L526.7 253.8 L527.4 257.3 L523.8 258"/><path d="M530 261 C533.5 261 536.5 265 536.4 270 C536.3 274 534 276 531 275.5 M529.7 283.2 L533 282 L535.8 285 L535.8 291 L533 294 L529.7 294.6"/><path d="M523.5 299.9 L535.8 293.7"/><path d="M528.5 244 L545 235.5 M532 252 L548 243.5 M545 235.5 C548.5 234.5 550 241 548 243.5"/><path d="M531.5 242.8 C533.5 245 535 249 535 251 M534.5 241.3 C536.5 243.5 538 247.5 538 249.5 M537.5 239.7 C539.5 242 541 246 541 248 M540.5 238 C542.5 240.5 544 244 544 246.3"/><path d="M526 246 L529 243.5 M527.5 250 L531 248"/><circle cx="511.9" cy="254.3" r="5.3"/><circle cx="511.9" cy="254.3" r="2.8"/><path d="M454 264.2 C455 262.5 457 262 459 262 L468 261.4 C472 259.5 478 259.5 481.5 263 C484 266 484 276 481.5 281 C479 285 473 287 468 286.5 L466 290 C465 294 461 295.5 458 294 L452 293 L451 266 C451.5 265 452.5 264.5 454 264.2 Z"/><ellipse cx="471.8" cy="273.5" rx="7" ry="8.4"/><ellipse cx="472.2" cy="274" rx="3.2" ry="4.2"/><path d="M473 270.5 C474.5 272 474.5 275 473 277"/><circle cx="459.6" cy="270.7" r="2.2"/><circle cx="460.8" cy="289.8" r="2.2"/><path d="M449.5 268 C450 265.5 452 264 454.5 263.5 M456 262 L458 260.5"/><path d="M468.2 288.5 C472 297 474 307 472.6 316.6 M481.4 279.7 C486 287 488 297 486.6 308.7"/><path d="M495 313 L505 270 M500.7 309.5 L507.7 270 M498 324.5 L501.6 308.7 M492.8 270 L484 278"/><path d="M507.5 262 L505 270 M512 259.5 L507.7 270"/><circle cx="491" cy="321" r="6.6"/><circle cx="491" cy="321" r="3.1"/><path d="M452 317.5 L484.4 319.5 M452 322.7 L484.6 326 M470 321.2 L478 322"/><path d="M477 315.7 L483.1 309.5 L493.7 312.2"/><circle cx="515.6" cy="303.4" r="6.1"/><circle cx="515.6" cy="303.4" r="2.9"/><path d="M502.5 295.5 L509.5 299 M502.5 308.7 L509.5 308.5 M502.5 295.5 L502.5 308.7 M507 290 L515 292"/><path d="M521.8 296.4 L516.5 270 M524.4 299 L520 270 M528 297.5 L525.5 283 M530 285 L523 270"/><path d="M513 270 L511.5 286"/><path d="M411.3 283.7 C408.5 286 407.5 289 407.8 292.3 C408 298 409.5 305 413 311.4 C416 316.5 418.5 320 421.7 323.5 C425 327 428.5 330 432.1 332.2 C435 333.7 438 334.5 440.7 334.8"/><path d="M432 284.5 C434 282.5 436 281.5 437.3 281 C439 280 441 279.3 442.5 279.3 C445 279.3 447 280.5 448.5 282 C450 283.5 451 285 451 286.3 L452 292.3 C453 294 454.5 295 456.3 295"/><path d="M429.5 288 L445 305.3 L437.3 310.5 L435.5 318.3 M434.7 288 L444.2 301.9"/><path d="M448.5 298.4 L453 294 M449.4 304.5 L453.7 297.5 M454.6 312.3 L460.7 296.7"/><circle cx="460.7" cy="290.2" r="2.3"/><path d="M452 313.5 C450 312.2 446 311.8 443.5 313 C441.6 314.5 441.5 318.5 442.5 320.5 C444 322.8 448 323.5 452 322.7"/><circle cx="446.8" cy="316.8" r="2.2"/><path d="M424.5 257 C425.5 253.5 428.5 252.5 429.5 254 C430.5 255.5 430 258 429 259.5 M427 259.5 C427.5 262 427 263 426.2 263.8 M431 253 L436 253 C437.5 254 437.8 256 437.5 261 L436 263"/><path d="M439.4 262 C440.5 260.5 443 260.2 444 261 L444 268 M441 264 C441.5 266 441.5 268 440.8 270 M445 261 L452 260.5 L452 272"/><ellipse cx="404.6" cy="273.5" rx="3.8" ry="6.1" transform="rotate(-20 404.6 273.5)"/><ellipse cx="404" cy="274" rx="1.2" ry="1.8" transform="rotate(-20 404 274)"/><path d="M402 268 L406.4 264.5 M406 279.2 L412 276.6 M406.5 266 C409 268 409.5 274 408 278.5 M408.8 264.5 C411.3 266.5 411.8 272.5 410.3 277.5 M406.4 261.4 L410.5 259"/><path d="M410 259 L416.6 256 L422.6 260.2 L421.4 268 L420.5 272 L416 276.4 L411 277 M416.6 256 L414.5 264 L421.4 268 M414.5 264 L411.5 270"/><path d="M422 272.8 L432.8 266.2"/><ellipse cx="414.3" cy="286.5" rx="3.7" ry="5.5" transform="rotate(-20 414.3 286.5)"/><ellipse cx="414" cy="287" rx="1.1" ry="1.8" transform="rotate(-20 414 287)"/><path d="M412.5 281 L417 277.5 M416 292 L421.5 289.5 M416.5 279 C418.5 281 419 286 417.8 290.5 M418.7 278 C420.7 280 421.2 285 420 289.5"/><path d="M417 277.5 L421 274 L428 273.4 L431.6 279 L431 285 L426 288.4 L421 289.5 M421 274 L424 281 L431.6 279 M424 281 L421 289.5"/><path d="M431.6 285.4 L441.2 279.4"/><path d="M440.7 330 L444 326.5 L452 325.3 L460 326 L462.4 329.5 L462 334 L457 336.5 L447 337 L441.5 335 Z"/><path d="M444.5 326.5 L446.5 330.5 M448 326 L450 330.5 M451.5 325.5 L453.5 330 M455 325.5 L457 330 M458.5 326 L460 329.5"/><path d="M441.5 334 L441.5 340 L447 343.5 L458 343 L463.5 339 L462 334 M447 337 L447 343.5 M457 336.5 L458 343"/><path d="M447.5 343.5 L450 361 C453 364 460 363 464 360 L462.5 342"/><path d="M448 347 C451 349 458 348 462.8 345.5 M448.5 351 C452 353 459 352 463.2 349.5 M449 355 C452.5 357 459.5 356 463.5 353.5 M449.5 359 C453 361 460 360 463.8 357.5"/></g>
<g><path d="M748 303 L749.5 301.2 L752 302 L754 300.9 L756 302.5 L758 302 L759 305 L760.2 307 L760 310 L758.5 313 L759 315 L755 317 L751 317.4 L747.5 316 L746.3 313 L747 310 L746.5 307 Z"/><path d="M748.5 306 L752 305 L756.5 306.5 M746.5 310 L750 309"/><path d="M762.3 309.5 C763 306 766 304.6 769 304.8 C773 305 775.1 308 775 312 C774.8 316 772 320 768 321.7 M764 313 C765 311 766.5 310 767 311 M764.5 317 C766.5 316 768 313 768.5 310.5"/><path d="M746.3 312 L741 315.5 L740 320 L740 332.3 M741 318 C742 320 744 321 747 321"/><path d="M775.1 312.6 L795.4 323.3 L796 316.3 L805 311 L812 308 L819 303.4 L823.8 308.2 L830 307 L840.6 307.6 L845.4 313 L855 316.6 L858.6 317.8 L871.8 310.6 C875 310 877.5 312 877.8 316 C878 319 877.5 320 876 320.5 L864.6 327.4"/><path d="M871.8 310.6 C874.5 312 876 315 876.6 318"/><path d="M864.6 327.4 L865 332 L864 336 L866 340 L865.8 346.6 L864 350 L863 354 L862.2 357.4 L864 361 L867 367 L863 371 L857.4 376.6 L850 380 L845 382.2 L840 382.5 L832.4 383.3"/><path d="M848 368 C850 366 852.5 367 853 370 M851 369 C853 372 852 376 849 379"/><path d="M730.3 344 C729.5 341 731 338 735.7 336.6 L741 334.5 L745 332.5 L748.5 331.3 M731 347 C731 350 733 352.5 735.7 353.7 L741 352 L745 351 L749.5 349.4"/><path d="M733 343 C734.5 345 735 348 734.5 350"/><path d="M741 333 L742 330.5 M744 332 L745 329.5 M739 352.5 L740 355 M743 351.5 L744 354"/><path d="M748.5 331.3 L752 328.5 L755 329.5 C756 327.5 758.5 327 760 327.2 L766 327.3 C768 328 768.7 331 768.5 334 C768.2 337 767 339 765.5 339.8 M757 331 C757.5 333 757.5 336 757 338 M760.5 329.5 L760.5 338.5 M749.5 349.4 L756 345 L766 341 L770.9 339"/><path d="M770.9 337 C771.5 335.5 774 335.3 778 335.5 L781.5 336 L781.5 345.1 M772.5 338 L773 342 M775 338.5 L775.5 343"/><path d="M741 356.9 L746 358 L755 355 L763 354 L772 354.7 L780.5 359"/><path d="M780.5 345.1 L781.5 367.5 L784 366 M782.6 339.8 L788 338 L793 336 L799.7 331.3 L805 334.5"/><path d="M795 339.4 C800 336 808 336 812.5 340 C816 344 815.5 352 812 357 C808.5 361.5 803 363.5 799.8 363.4 M800.5 342 C805 341 809 344 809.5 349 C810 354 807 357.5 802 359"/><path d="M811.8 352.6 L817.8 385 M799.8 365.8 L803.4 379 M831 369.4 L827.4 385 M813 339.4 L827.4 328.6 L828.6 322 L830 318.5 L834.6 317.8 L841 317.5 L845.4 320"/><path d="M828.6 340.6 L835.8 333.4"/><ellipse cx="842.4" cy="329.2" rx="5.2" ry="6.4" transform="rotate(15 842.4 329.2)"/><ellipse cx="843" cy="329" rx="1.4" ry="3.2" transform="rotate(15 843 329)"/><path d="M847.5 326 L849.5 325 M847.5 331 L849.5 332 M836 326 L834 326.5"/><path d="M781.4 355 L782.6 366.3 C785 369 789 369.5 791.6 368.6 L798.4 361.8 L809.8 355 M798.4 364.1 L803 378.8 M814.3 355 C816 364 817.5 373 817.7 382.2"/><path d="M790 365 C791 363 793 363 794 364"/><path d="M741.8 357.3 C739 360 738.3 363 738.4 366.3 C738.5 370 738.8 374 739.5 377.7 C741 383 743.5 387.5 746.3 391.3 C749.5 395.5 752.5 400 756.5 403.7 C760 406.5 764 408.5 767.9 410"/><path d="M741.8 357.3 L743 360 L746.3 365.8 L750 364 L755 362 L763.3 360.7 L767 358 L770.1 356.1"/><path d="M766.2 391 L766.5 386 L768 385 M770 387 C771 385 774 384.5 777 384.5 C780 384.5 783 386 784.8 389 L782 396 L777 398 L772.5 398 C771 396 770 394 770.5 390"/><circle cx="777.5" cy="391.3" r="2.3"/><path d="M769 399.5 L770 404 L768 409 L769 411.6 L771 415 L774 420 L776 425 L778 430 L780 434 L782.6 436.6 L788 438 L793.9 436 L794 433.2 L793 427 L794 421 L793 415 L792 409 L790 404 L789.4 400.3"/><path d="M775.5 422 L777.5 421 M779 429 L781 428 M791 421 L793 422 M790 428 L792 429"/><path d="M789.4 400.3 L814.3 401.4"/><path d="M814.3 395 C814 390 817 387.5 821 387.9 C825.5 388.5 829 392 829 396.5 C828.5 401 825 404.5 820.5 404.8 C817 404.5 814.5 400 814.3 395 Z"/><path d="M822 392 C824 393 824.5 397 822 399.5 M812 384.5 L817 386.5"/><path d="M829 385.6 L831.3 368.6 M832.4 383.3 L836 382.5"/><path d="M841 411 C839 409 840 406 843 407 L856 415 M840 413 L853 422 M845 409.5 L843 414 M848 411.5 L846 416 M851 413.5 L849 418"/><circle cx="864" cy="423.5" r="7.2"/><path d="M858.5 417 L864 415 L869.5 418 L871 424 L869 429.5 L863 431.5 L857 429 L855 423 Z M856 417.5 C853 419 853 426 856 430"/><path d="M859 419 L866 417 L869 422 L866.5 427 L860 428 L858 424 Z"/></g>
<g><path d="M783.4 467.8 C781 462 783 456 790 453 C797 450 806 449 811 451 C815 455 818 460 817 466 C815 473 806 478 797 479 L793.6 480"/><path d="M790 461 C794 463 800 462 803 459 M810 454 L812 458"/><path d="M783.4 467.8 C772 475 760 483 748 490 C744 492.5 741 494 738 497.6 C733 499 728 499.5 724 499.2 C720 498.5 716 496.8 713 494 L709.6 490.4"/><path d="M709.6 490.4 C709 487.5 706 486.2 701.6 486.4 C697 487 693 490 692.4 494.8 C692.5 496 693 496.8 693.6 497.2 C695 501 697 505 699.2 508 C702 510.5 706 512.5 708.8 514.4 L709.5 517"/><path d="M697 491.5 C699 490.5 701 490 702 489 M706 489 L707 491"/><path d="M793.6 480 L760 500 L738 518.4 L728 526.4"/><path d="M782.5 475.3 L760 489 L738 511.6 L730.4 512"/><path d="M709.5 517 C712 515 716 514 720 514.4 C724 515 727 519.5 728 524.5 C728.5 529 725 533.5 720 535 C716 536 712 535.2 709 534 M708 521.6 C709 524 710 525 712 525.5 M723.5 515.2 L726 521"/><path d="M712 521 C713.5 520 715.5 519 717 518.5"/><path d="M709 534 L701.6 534.4 L692 534.4 C689 531 687.5 529.5 685.6 528 L675.2 520.8 C673.5 519.5 674.5 517 676 517.6 L687.2 522.4 L696.8 525.6 L708 521.6"/><path d="M694 525 L697 531 L699 534 M697.5 526 L700.5 533"/><ellipse cx="813.5" cy="490.5" rx="8.5" ry="4.3" transform="rotate(-12 813.5 490.5)"/><path d="M809.5 488.5 L813 487.5 L817.5 488.5 L818 491.5 L814 493 L810 492 Z"/><path d="M805 491.5 L805 499 L809.5 503.5 L816 504.5 L822 500 L822 489 M809.5 494 L809.5 503.5 M816 494.5 L816 504.5 M805 496 L809.5 498 L816 498.5 L822 495.5"/></g>
</g>
<g id="logo">
<path d="M896 728 C893 724 910 720 940 720 C965 720 980 724 978 728 C976 732 960 735 935 735 C915 735 898 732 896 728 Z" fill="none" stroke="#d6d7d0" stroke-width="1.8"/>
<path d="M899 733 C915 738 950 738 975 733" fill="none" stroke="#dcddd6" stroke-width="1.8"/>
<clipPath id="gc"><path d="M880 640 L1010 640 L1010 745 L966 745 L966 727.5 C945 728 925 724 914 717 C905 710 902 699 907 689 Z"/></clipPath>
<g clip-path="url(#gc)"><g transform="translate(952.5 711) rotate(18) scale(1 0.7)">
<path d="M26.70 4.03 L32.38 6.36 L30.62 12.32 L24.58 11.17 L23.51 13.28 L22.25 15.30 L20.82 17.19 L19.23 18.96 L22.46 24.18 L17.53 27.96 L13.32 23.48 L11.21 24.56 L9.01 25.45 L6.74 26.15 L4.41 26.64 L3.96 32.76 L-2.25 32.92 L-3.03 26.83 L-5.37 26.46 L-7.67 25.89 L-9.92 25.11 L-12.09 24.14 L-16.06 28.83 L-21.17 25.31 L-18.22 19.93 L-19.90 18.25 L-21.42 16.43 L-22.79 14.49 L-23.97 12.43 L-29.94 13.89 L-32.01 8.03 L-26.45 5.41 L-26.83 3.07 L-26.99 0.70 L-26.95 -1.67 L-26.70 -4.03 L-32.38 -6.36 L-30.62 -12.32 L-24.58 -11.17 L-23.51 -13.28 L-22.25 -15.30 L-20.82 -17.19 L-19.23 -18.96 L-22.46 -24.18 L-17.53 -27.96 L-13.32 -23.48 L-11.21 -24.56 L-9.01 -25.45 L-6.74 -26.15 L-4.41 -26.64 L-3.96 -32.76 L2.25 -32.92 L3.03 -26.83 L5.37 -26.46 L7.67 -25.89 L9.92 -25.11 L12.09 -24.14 L16.06 -28.83 L21.17 -25.31 L18.22 -19.93 L19.90 -18.25 L21.42 -16.43 L22.79 -14.49 L23.97 -12.43 L29.94 -13.89 L32.01 -8.03 L26.45 -5.41 L26.83 -3.07 L26.99 -0.70 L26.95 1.67Z M15.5 -4 A15.5 13 0 1 0 -15.5 -4 A15.5 13 0 1 0 15.5 -4Z" fill="#e98099" fill-rule="evenodd"/>
</g></g>
<path d="M916 690 C903 697 904 712 918 719.5 C930 725.5 950 728 968 726" fill="none" stroke="#fff" stroke-width="3.4"/>
<path d="M917.5 685 C904 688 898 700 904 710 C910 720 935 727 966 726.5 C945 724 923 719 912 710 C905 702 906 692 917.5 685 Z" fill="#e98099"/>
<path d="M901.5 709 L901.5 717 C906 728 935 732 962 730.5 C940 729 912 724 906 716 C904 713 903 711 901.5 709 Z" fill="#e98099"/>
<g font-family="Liberation Sans, sans-serif" font-size="17.5" letter-spacing="1.6">
<path id="arc" d="M874.5 727.8 A63 63 0 0 1 1000.0 733.8" fill="none"/>
<text fill="#8a8a8a" style="filter:grayscale(1)"><textPath href="#arc" startOffset="0">TRUCKMALL</textPath></text><text fill="#e98099"><textPath href="#arc" startOffset="120.4">PARTS</textPath></text>
</g>
</g>
</svg>
</body></html>
